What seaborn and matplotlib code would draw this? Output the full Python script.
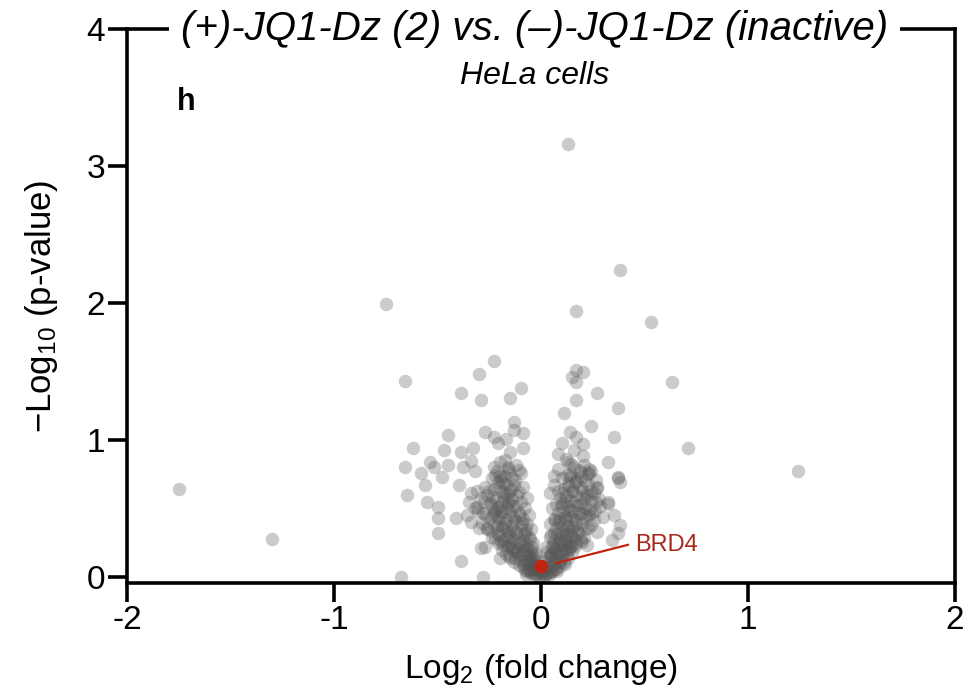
import numpy as np
import pandas as pd
import matplotlib
matplotlib.use("Agg")
import matplotlib.pyplot as plt
import seaborn as sns

# ---- data ----
# dense core, left arm
core_left_fc = [
    -0.02, -0.05, -0.01, -0.04, -0.07, -0.09, -0.03, -0.06, -0.11, -0.02,
    -0.01, -0.03, -0.015, -0.025, -0.045, -0.015, 0.0, -0.06, -0.08,
    -0.08, -0.13, -0.05, -0.10, -0.15, -0.03, -0.07, -0.12, -0.17, -0.09, -0.14, -0.05, -0.19,
    -0.07, -0.11, -0.16, -0.21, -0.04, -0.09, -0.13, -0.18, -0.24, -0.06, -0.15, -0.27,
    -0.08, -0.12, -0.17, -0.21, -0.26, -0.05, -0.10, -0.14, -0.19, -0.23, -0.30, -0.07, -0.34,
    -0.09, -0.13, -0.17, -0.21, -0.25, -0.06, -0.11, -0.15, -0.19, -0.23, -0.28, -0.36, -0.08, -0.32,
    -0.12, -0.16, -0.20, -0.25, -0.10, -0.14, -0.18, -0.22, -0.29, -0.07, -0.35, -0.26,
    -0.11, -0.15, -0.19, -0.23, -0.13, -0.17, -0.21, -0.27, -0.09, -0.31,
    -0.14, -0.18, -0.10, -0.16, -0.24, -0.12, -0.20,
    # second pass over the dense part
    -0.035, -0.055, -0.075, -0.02, -0.045, -0.085, -0.065, -0.105, -0.125, -0.04,
    -0.06, -0.095, -0.115, -0.135, -0.155, -0.025, -0.07, -0.085, -0.165, -0.185,
    -0.045, -0.105, -0.125, -0.145, -0.195, -0.225, -0.055, -0.085, -0.165, -0.205,
    -0.115, -0.135, -0.155, -0.185, -0.245, -0.075, -0.095, -0.215, -0.285, -0.125,
    -0.145, -0.175, -0.205, -0.235, -0.265, -0.105, -0.165, -0.195, -0.225, -0.305,
    -0.135, -0.155, -0.185, -0.215, -0.245, -0.115, -0.175, -0.235, -0.275, -0.145,
    -0.165, -0.205, -0.255, -0.125, -0.195, -0.225, -0.155, -0.185, -0.215, -0.175,
]
core_left_p = [
    0.02, 0.03, 0.05, 0.06, 0.04, 0.07, 0.09, 0.10, 0.09, 0.12,
    0.01, 0.02, 0.04, 0.07, 0.11, 0.08, 0.03, 0.06, 0.05,
    0.12, 0.11, 0.14, 0.15, 0.14, 0.16, 0.17, 0.18, 0.17, 0.20, 0.21, 0.19, 0.20,
    0.23, 0.24, 0.23, 0.25, 0.25, 0.27, 0.28, 0.27, 0.29, 0.29, 0.30, 0.22,
    0.32, 0.33, 0.34, 0.32, 0.35, 0.35, 0.37, 0.38, 0.37, 0.39, 0.36, 0.39, 0.40,
    0.42, 0.43, 0.42, 0.44, 0.43, 0.45, 0.47, 0.48, 0.47, 0.49, 0.47, 0.45, 0.50, 0.50,
    0.52, 0.53, 0.52, 0.54, 0.55, 0.57, 0.58, 0.56, 0.58, 0.58, 0.55, 0.60,
    0.62, 0.63, 0.62, 0.64, 0.67, 0.68, 0.69, 0.66, 0.66, 0.63,
    0.72, 0.74, 0.76, 0.79, 0.72, 0.82, 0.84,
    0.015, 0.045, 0.025, 0.065, 0.085, 0.095, 0.115, 0.125, 0.135, 0.145,
    0.155, 0.165, 0.185, 0.195, 0.155, 0.175, 0.205, 0.225, 0.215, 0.235,
    0.215, 0.255, 0.215, 0.245, 0.265, 0.275, 0.275, 0.305, 0.295, 0.305,
    0.315, 0.345, 0.325, 0.355, 0.335, 0.345, 0.395, 0.375, 0.395, 0.405,
    0.445, 0.395, 0.415, 0.455, 0.445, 0.455, 0.505, 0.485, 0.475, 0.485,
    0.515, 0.545, 0.555, 0.505, 0.525, 0.595, 0.615, 0.585, 0.545, 0.645,
    0.595, 0.655, 0.625, 0.705, 0.705, 0.745, 0.765, 0.685, 0.775, 0.855,
]

# dense core, right arm
core_right_fc = [
    0.01, 0.03, 0.02, 0.05, 0.04, 0.07, 0.03, 0.06, 0.09, 0.02, 0.015, 0.035,
    0.05, 0.08, 0.11, 0.04, 0.07, 0.10, 0.13, 0.06, 0.09, 0.12, 0.15, 0.03,
    0.05, 0.08, 0.11, 0.14, 0.17, 0.06, 0.09, 0.12, 0.15, 0.19, 0.04, 0.22,
    0.06, 0.09, 0.12, 0.15, 0.18, 0.21, 0.07, 0.10, 0.13, 0.17, 0.24, 0.04, 0.27,
    0.06, 0.09, 0.12, 0.15, 0.19, 0.23, 0.08, 0.11, 0.14, 0.18, 0.21, 0.26, 0.05, 0.30,
    0.07, 0.10, 0.13, 0.16, 0.20, 0.24, 0.09, 0.12, 0.17, 0.22, 0.28, 0.32,
    0.08, 0.11, 0.15, 0.19, 0.24, 0.06, 0.13, 0.17, 0.27, 0.21,
    0.10, 0.14, 0.19, 0.08, 0.16, 0.23, 0.12, 0.20,
    # second pass over the dense part
    0.025, 0.045, 0.065, 0.015, 0.055, 0.085, 0.075, 0.095, 0.115, 0.035,
    0.045, 0.075, 0.105, 0.125, 0.145, 0.025, 0.065, 0.085, 0.135, 0.165,
    0.055, 0.095, 0.115, 0.135, 0.165, 0.195, 0.045, 0.075, 0.145, 0.205,
    0.105, 0.125, 0.155, 0.175, 0.225, 0.065, 0.085, 0.195, 0.255, 0.115,
    0.135, 0.165, 0.195, 0.215, 0.245, 0.095, 0.155, 0.175, 0.235, 0.285,
    0.115, 0.145, 0.185, 0.205, 0.265, 0.105, 0.155, 0.215, 0.255, 0.135,
    0.175, 0.195, 0.225, 0.125, 0.185, 0.265, 0.145, 0.165, 0.225, 0.205,
]
core_right_p = [
    0.02, 0.03, 0.05, 0.04, 0.07, 0.06, 0.09, 0.10, 0.08, 0.12, 0.01, 0.015,
    0.13, 0.12, 0.11, 0.16, 0.15, 0.16, 0.14, 0.19, 0.18, 0.20, 0.18, 0.18,
    0.22, 0.23, 0.24, 0.22, 0.25, 0.26, 0.28, 0.27, 0.29, 0.27, 0.29, 0.23,
    0.32, 0.33, 0.31, 0.34, 0.32, 0.35, 0.36, 0.38, 0.37, 0.39, 0.38, 0.39, 0.33,
    0.42, 0.43, 0.42, 0.44, 0.43, 0.45, 0.47, 0.48, 0.49, 0.47, 0.50, 0.48, 0.50, 0.44,
    0.53, 0.54, 0.52, 0.55, 0.54, 0.56, 0.58, 0.59, 0.60, 0.59, 0.57, 0.53,
    0.63, 0.64, 0.63, 0.65, 0.63, 0.67, 0.68, 0.69, 0.66, 0.70,
    0.72, 0.75, 0.73, 0.79, 0.80, 0.79, 0.86, 0.88,
    0.025, 0.035, 0.055, 0.075, 0.085, 0.105, 0.045, 0.125, 0.095, 0.145,
    0.165, 0.175, 0.195, 0.185, 0.225, 0.215, 0.205, 0.245, 0.205, 0.225,
    0.235, 0.265, 0.285, 0.255, 0.275, 0.255, 0.305, 0.315, 0.315, 0.295,
    0.345, 0.355, 0.365, 0.335, 0.355, 0.415, 0.405, 0.385, 0.415, 0.435,
    0.455, 0.415, 0.465, 0.445, 0.465, 0.515, 0.485, 0.525, 0.495, 0.515,
    0.545, 0.565, 0.525, 0.575, 0.545, 0.615, 0.625, 0.605, 0.615, 0.665,
    0.715, 0.625, 0.675, 0.745, 0.765, 0.705, 0.825, 0.695, 0.755, 0.815,
]

# scattered proteins, left side
spread_left_fc = [
    -0.75, -0.23, -0.30, -0.66, -0.10, -0.39, -0.29, -0.15, -0.13, -0.27,
    -0.13, -0.09, -0.45, -0.23, -0.17, -0.62, -0.47, -0.39, -0.33, -0.21,
    -0.09, -0.15, -0.54, -0.52, -0.45, -0.34, -0.66, -0.58, -0.48, -0.38,
    -0.32, -0.23, -0.20, -0.16, -0.11, -0.65, -0.56, -0.55, -0.50, -0.50,
    -0.41, -0.50, -0.39, -0.68, -0.28, -0.40, -0.34, -0.31, -0.26, -0.29,
    -0.20, -1.75, -1.30,
]
spread_left_p = [
    1.99, 1.58, 1.48, 1.43, 1.38, 1.34, 1.29, 1.31, 1.13, 1.06,
    1.07, 1.05, 1.04, 1.02, 1.01, 0.94, 0.93, 0.91, 0.94, 0.98,
    0.94, 0.91, 0.84, 0.80, 0.82, 0.85, 0.80, 0.76, 0.73, 0.80,
    0.77, 0.80, 0.74, 0.80, 0.78, 0.60, 0.67, 0.55, 0.51, 0.43,
    0.43, 0.32, 0.12, 0.00, 0.00, 0.67, 0.61, 0.51, 0.36, 0.21,
    0.14, 0.64, 0.28,
]

# scattered proteins, right side
spread_right_fc = [
    0.04, 0.27, 0.32, 0.35, 0.38, 0.34, 0.37, 0.37, 0.38, 0.23,
    0.32, 0.10, 0.20, 0.08, 0.16, 0.13, 0.35, 0.14, 0.17, 0.24,
    0.11, 0.37, 0.27, 0.17, 0.15, 0.17, 0.20, 0.17, 0.63, 0.71,
    1.24, 0.53, 0.17, 0.38, 0.13, 0.06, 0.14, 0.18, 0.24, 0.37,
]
spread_right_p = [
    0.61, 0.65, 0.55, 0.45, 0.38, 0.27, 0.32, 0.72, 0.69, 0.76,
    0.84, 0.98, 0.97, 0.90, 0.93, 0.84, 1.02, 1.06, 1.02, 1.10,
    1.20, 1.23, 1.34, 1.29, 1.46, 1.51, 1.50, 1.42, 1.42, 0.94,
    0.77, 1.86, 1.94, 2.24, 3.16, 0.74, 0.73, 0.78, 0.77, 0.73,
]

# highlighted protein
hit_name = "BRD4"
hit_fc = [0.0]
hit_p = [0.08]

title_text = "(+)-JQ1-Dz (2) vs. (\u2013)-JQ1-Dz (inactive)"
subtitle_text = "HeLa cells"
panel_letter = "h"

# =============================================================================
sns.set_theme(style="ticks")
plt.rcParams['font.family'] = ['Liberation Sans', 'DejaVu Sans']
plt.rcParams['mathtext.default'] = 'regular'
plt.rcParams['axes.unicode_minus'] = False
plt.rcParams['text.color'] = 'black'
plt.rcParams['axes.labelcolor'] = 'black'

df = pd.DataFrame({
    "log2fc": core_left_fc + core_right_fc + spread_left_fc + spread_right_fc,
    "nlogp": core_left_p + core_right_p + spread_left_p + spread_right_p,
})
hit_df = pd.DataFrame({"log2fc": hit_fc, "nlogp": hit_p})

fig = plt.figure(figsize=(9.76, 6.94), dpi=100)
ax = fig.add_axes([0.1306, 0.160, 0.848, 0.798])

sns.scatterplot(data=df, x="log2fc", y="nlogp", color="#555555", alpha=0.3,
                s=95, linewidth=0, ax=ax, legend=False)
sns.scatterplot(data=hit_df, x="log2fc", y="nlogp", color="#c22412",
                s=95, linewidth=0, ax=ax, legend=False, zorder=4)

# label line + text for the hit
hx, hy = hit_fc[0], hit_p[0]
ax.plot([hx + 0.07, hx + 0.42], [hy + 0.02, hy + 0.155], color="#c22412", lw=1.6, zorder=4)
ax.text(hx + 0.455, hy + 0.155, hit_name, color="#a8281c", fontsize=17,
        ha="left", va="center", zorder=5)

ax.set_xlim(-2, 2)
ax.set_ylim(-0.044, 4)
ax.set_xticks([-2, -1, 0, 1, 2])
ax.set_yticks([0, 1, 2, 3, 4])

for sp in ax.spines.values():
    sp.set_linewidth(2.6)
    sp.set_color("black")
ax.tick_params(axis="both", direction="out", length=14, width=2.6, labelsize=24, colors="black")
ax.tick_params(axis="x", pad=2)
ax.tick_params(axis="y", pad=2)

ax.set_xlabel("Log$_2$ (fold change)", fontsize=24)
ax.set_ylabel("\u2212Log$_{10}$ (p-value)", fontsize=25)
ax.xaxis.set_label_coords(0.5, -0.124)
ax.yaxis.set_label_coords(-0.082, 0.5)

# title sits on the top spine, with a white box cutting the line
ax.text(-0.034, 4, title_text, fontsize=29, style="italic", ha="center", va="center",
        bbox=dict(boxstyle="square,pad=0.3", fc="white", ec="none"), zorder=6, clip_on=False)
ax.text(-0.03, 3.66, subtitle_text, fontsize=23, style="italic", ha="center", va="center")
ax.text(-1.763, 3.41, panel_letter, fontsize=22, fontweight="bold", ha="left", va="baseline")

plt.savefig("out.png", dpi=100)
plt.close()
